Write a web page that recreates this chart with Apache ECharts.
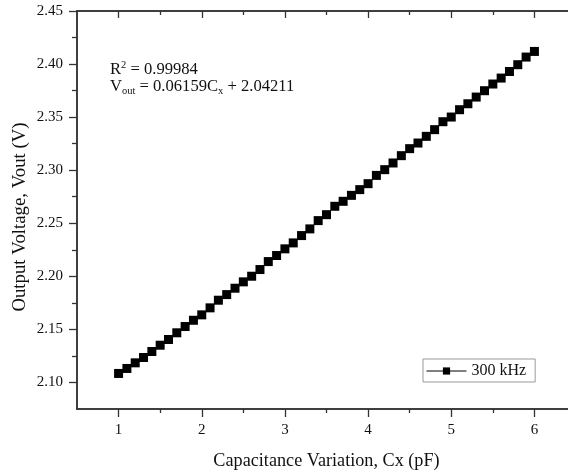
<!DOCTYPE html>
<html>
<head>
<meta charset="utf-8">
<script src="https://cdn.jsdelivr.net/npm/echarts@6/dist/echarts.min.js"></script>
<style>
html,body{margin:0;padding:0;background:#fff;overflow:hidden;}
#chart{width:580px;height:475px;}
</style>
</head>
<body>
<div id="chart"></div>
<script>
// Data
var cx = [1.0,1.1,1.2,1.3,1.4,1.5,1.6,1.7,1.8,1.9,
          2.0,2.1,2.2,2.3,2.4,2.5,2.6,2.7,2.8,2.9,
          3.0,3.1,3.2,3.3,3.4,3.5,3.6,3.7,3.8,3.9,
          4.0,4.1,4.2,4.3,4.4,4.5,4.6,4.7,4.8,4.9,
          5.0,5.1,5.2,5.3,5.4,5.5,5.6,5.7,5.8,5.9,6.0];
var vout = [2.1085,2.1132,2.1185,2.1235,2.1292,2.1351,2.1405,2.1468,2.1527,2.1586,
            2.1637,2.1703,2.1775,2.1828,2.1888,2.1948,2.2001,2.2064,2.2139,2.2196,
            2.2259,2.2315,2.2384,2.2447,2.2525,2.2581,2.2660,2.2707,2.2763,2.2817,
            2.2873,2.2951,2.3005,2.3068,2.3137,2.3203,2.3256,2.3319,2.3382,2.3457,
            2.3501,2.3570,2.3626,2.3689,2.3749,2.3812,2.3868,2.3930,2.3994,2.4066,2.4119];
var seriesName = '300 kHz';
var xMajor = [1,2,3,4,5,6];
var xMinor = [1.5,2.5,3.5,4.5,5.5];
var yMajor = [2.10,2.15,2.20,2.25,2.30,2.35,2.40,2.45];
var yMinor = [2.125,2.175,2.225,2.275,2.325,2.375,2.425];
var xTitle = 'Capacitance Variation, Cx (pF)';
var yTitle = 'Output Voltage, Vout (V)';
var r2Text = 'R{sup|2} = 0.99984';
var eqText = 'V{sub|out} = 0.06159C{sub|x} + 2.04211';

var FONT = '"Liberation Serif", "Times New Roman", serif';
var AX = '#333';
var X_MIN = 0.5, X_MAX = 6.5, Y_MIN = 2.075, Y_MAX = 2.45;

function xAx(pos, ticks, len, inside, showLabel, name) {
  return {
    type: 'value', position: pos, min: X_MIN, max: X_MAX,
    axisLine: {show: true, onZero: false, lineStyle: {color: AX, width: 1.5}},
    axisTick: {show: true, inside: inside, length: len, customValues: ticks, lineStyle: {color: AX, width: 1.3}},
    axisLabel: {show: showLabel, customValues: ticks, margin: 14, color: '#111', fontFamily: FONT, fontSize: 15},
    splitLine: {show: false},
    name: name || '', nameLocation: 'middle', nameGap: 43,
    nameTextStyle: {color: '#111', fontFamily: FONT, fontSize: 18.2}
  };
}
function yAx(pos, ticks, len, inside, showLabel) {
  return {
    type: 'value', position: pos, min: Y_MIN, max: Y_MAX,
    axisLine: {show: true, onZero: false, lineStyle: {color: AX, width: 1.5}},
    axisTick: {show: true, inside: inside, length: len, customValues: ticks, lineStyle: {color: AX, width: 1.3}},
    axisLabel: {show: showLabel, customValues: ticks, margin: 14, color: '#111', fontFamily: FONT, fontSize: 15,
                formatter: function (v) { return v.toFixed(2); }},
    splitLine: {show: false}
  };
}

var chart = echarts.init(document.getElementById('chart'), null, {renderer: 'canvas'});
chart.setOption({
  backgroundColor: '#fff',
  animation: false,
  grid: {left: 77, top: 11, right: 4, bottom: 66, containLabel: false, outerBoundsMode: 'none'},
  xAxis: [
    xAx('bottom', xMajor, 8, false, true, xTitle),
    xAx('bottom', xMinor, 4, false, false),
    xAx('top', xMajor, 7, true, false),
    xAx('top', xMinor, 4, true, false)
  ],
  yAxis: [
    yAx('left', yMajor, 8, false, true),
    yAx('left', yMinor, 5, false, false),
    yAx('right', yMajor, 7, true, false)
  ],
  legend: {
    left: 423, top: 359,
    padding: [4, 9, 3, 3],
    itemWidth: 40, itemHeight: 9, itemGap: 5,
    borderColor: '#999', borderWidth: 1,
    textStyle: {color: '#111', fontFamily: FONT, fontSize: 16},
    lineStyle: {color: '#000', width: 1, opacity: 1, type: 'solid'},
    data: [seriesName]
  },
  graphic: [
    {type: 'text', x: 20, y: 217, rotation: Math.PI / 2,
     style: {text: yTitle, fill: '#111', fontFamily: FONT, fontSize: 18.8, align: 'center', verticalAlign: 'middle'}},
    {type: 'text', x: 110, y: 70,
     style: {text: r2Text, fill: '#111', fontFamily: FONT, fontSize: 16.6, verticalAlign: 'middle',
             rich: {sup: {fontSize: 10.5, fontFamily: FONT, fill: '#111', verticalAlign: 'top', lineHeight: 20}}}},
    {type: 'text', x: 110, y: 87,
     style: {text: eqText, fill: '#111', fontFamily: FONT, fontSize: 16.6, verticalAlign: 'middle',
             rich: {sub: {fontSize: 10.5, fontFamily: FONT, fill: '#111', verticalAlign: 'bottom', lineHeight: 20}}}}
  ],
  series: [{
    name: seriesName,
    type: 'line',
    xAxisIndex: 0, yAxisIndex: 0,
    data: cx.map(function (x, i) { return [x, vout[i]]; }),
    symbol: 'rect', symbolSize: 9, showSymbol: true,
    itemStyle: {color: '#000'},
    lineStyle: {width: 0, opacity: 0},
    silent: true
  }]
});
</script>
</body>
</html>
